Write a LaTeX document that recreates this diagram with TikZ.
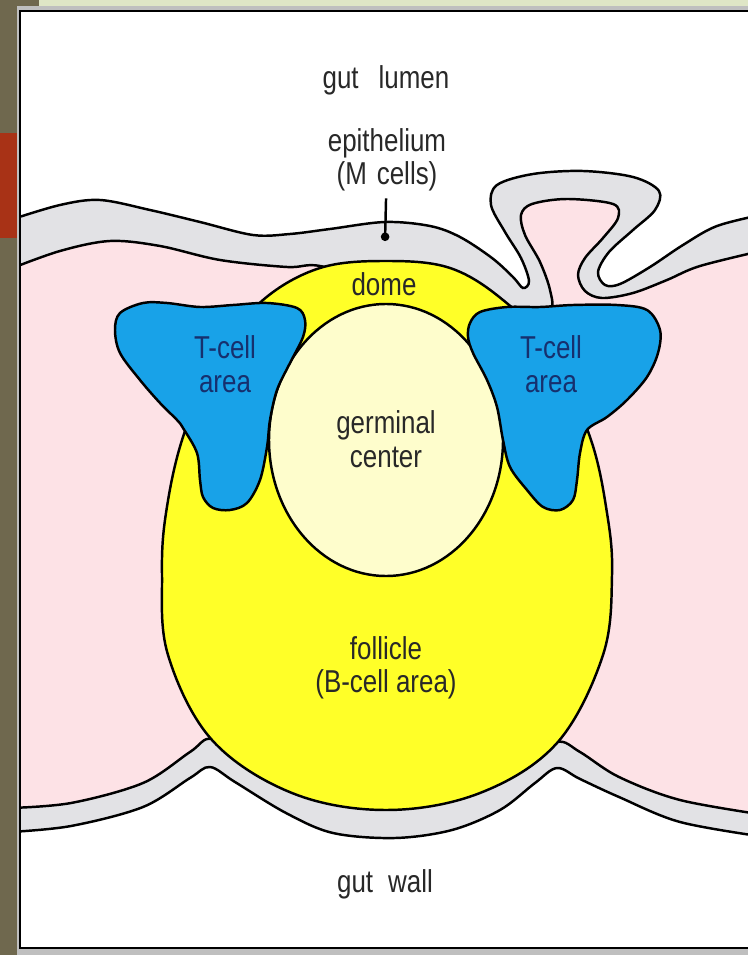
\documentclass[tikz,border=0pt]{standalone}
\usepackage{fontspec}
\newfontfamily\labelfont[FakeStretch=0.82]{Liberation Sans}
\usetikzlibrary{arrows.meta}

\definecolor{frameolive}{RGB}{111,104,78}
\definecolor{framered}{RGB}{168,50,22}
\definecolor{framegreen}{RGB}{223,230,198}
\definecolor{epigrey}{RGB}{226,226,229}
\definecolor{laminapink}{RGB}{253,226,230}
\definecolor{folyellow}{RGB}{255,255,40}
\definecolor{gcyellow}{RGB}{254,253,204}
\definecolor{tblue}{RGB}{24,162,232}
\definecolor{tbluetext}{RGB}{22,48,110}
\definecolor{txtgrey}{RGB}{40,40,40}

\tikzset{
  outline/.style={draw=black, line width=0.7pt},
  lbl/.style={font=\labelfont\fontsize{9}{9.5}\selectfont, text=txtgrey, align=center, inner sep=0pt},
  tlbl/.style={lbl, text=tbluetext},
  wavy/.style={smooth, tension=0.55},
}

\begin{document}
\begin{tikzpicture}[x=0.1mm, y=-0.1mm]
  \useasboundingbox (0,0) rectangle (748,955);

  % slide frame
  \fill[frameolive] (0,0) rectangle (748,955);
  \fill[framegreen] (39,0) rectangle (748,6);
  \fill[framered] (0,133) rectangle (17,238);
  \fill[black!25] (17,6) rectangle (760,955);
  \fill[white] (20,10) rectangle (760,949);

  \begin{scope}
    \clip (21,12) rectangle (760,947);
    % epithelium (top) and gut wall (bottom) bands
    \fill[epigrey] plot[wavy] coordinates {(10,220) (60,205) (100,200) (150,210) (200,222) (253,235) (290,234) (330,229) (385,222) (430,226) (460,237) (492,258) (513,277) (523,288) (529,281) (521,258) (505,232) (491,205) (497,185) (533,174) (583,171) (633,177) (659,191) (655,210) (633,230) (609,252) (598,272) (605,285) (620,284) (650,267) (683,245) (717,226) (765,214)} -- (765,960) -- (10,960) -- cycle;
    \fill[laminapink] plot[wavy] coordinates {(10,269) (60,251) (110,241) (160,246) (220,260) (287,267) (320,266) (386,285) (460,300) (520,318) (550,310) (550,290) (540,262) (525,235) (521,215) (532,204) (567,199) (613,204) (618,218) (603,238) (585,258) (578,275) (585,291) (602,298) (633,293) (667,280) (700,266) (765,250)} -- (765,960) -- (10,960) -- cycle;
    \fill[epigrey] plot[wavy] coordinates {(10,808) (71,803) (143,783) (190,752) (212,739) (250,765) (300,785) (386,792) (470,785) (520,765) (557,742) (580,752) (619,777) (680,800) (765,815)} -- (765,960) -- (10,960) -- cycle;
    \fill[white] plot[wavy] coordinates {(10,832) (71,826) (143,807) (190,778) (210,767) (235,782) (286,813) (333,833) (395,838) (452,830) (500,810) (535,783) (557,768) (580,779) (619,797) (680,822) (765,837)} -- (765,960) -- (10,960) -- cycle;

    \draw[outline] plot[wavy] coordinates {(10,220) (60,205) (100,200) (150,210) (200,222) (253,235) (290,234) (330,229) (385,222) (430,226) (460,237) (492,258) (513,277) (523,288) (529,281) (521,258) (505,232) (491,205) (497,185) (533,174) (583,171) (633,177) (659,191) (655,210) (633,230) (609,252) (598,272) (605,285) (620,284) (650,267) (683,245) (717,226) (765,214)};
    \draw[outline] plot[wavy] coordinates {(10,269) (60,251) (110,241) (160,246) (220,260) (287,267) (320,266) (386,285) (460,300) (520,318) (550,310) (550,290) (540,262) (525,235) (521,215) (532,204) (567,199) (613,204) (618,218) (603,238) (585,258) (578,275) (585,291) (602,298) (633,293) (667,280) (700,266) (765,250)};
    \draw[outline] plot[wavy] coordinates {(10,808) (71,803) (143,783) (190,752) (212,739) (250,765) (300,785) (386,792) (470,785) (520,765) (557,742) (580,752) (619,777) (680,800) (765,815)};
    \draw[outline] plot[wavy] coordinates {(10,832) (71,826) (143,807) (190,778) (210,767) (235,782) (286,813) (333,833) (395,838) (452,830) (500,810) (535,783) (557,768) (580,779) (619,797) (680,822) (765,837)};
  \end{scope}
  \draw[line width=0.8pt] (20,11) rectangle (770,948);

  % follicle and germinal center
  \draw[outline, fill=folyellow] plot[smooth cycle, tension=0.6] coordinates {(386,261) (450,268) (503,300) (550,350) (590,437) (607,513) (612,575) (603,655) (557,743) (480,793) (386,810) (292,793) (212,740) (168,655) (162,575) (166,513) (183,437) (218,355) (263,300) (320,268)};
  \draw[outline, fill=gcyellow] (386,440) ellipse [x radius=11.7mm, y radius=13.6mm];

  % T-cell areas
  \draw[outline, fill=tblue] plot[smooth cycle, tension=0.55] coordinates {(115,330) (120,313) (143,303) (167,303) (200,307) (233,305) (267,303) (297,308) (305,320) (303,337) (290,363) (277,390) (270,420) (267,447) (260,480) (247,503) (230,510) (213,508) (203,497) (200,480) (197,453) (183,428) (177,420) (160,403) (140,380) (120,353)};
  \draw[outline, fill=tblue] plot[smooth cycle, tension=0.55] coordinates {(468,337) (470,323) (480,312) (507,307) (540,307) (573,305) (617,305) (647,310) (660,330) (658,353) (647,377) (627,400) (607,417) (587,430) (580,453) (577,480) (573,500) (560,510) (543,507) (527,490) (510,467) (503,440) (497,407) (487,380) (473,353)};

  % labels
  \node[lbl] (lumen) at (386,80) {gut\hspace{2mm}lumen};
  \node[lbl, outer sep=2pt] (epi) at (387,160) {epithelium\\(M\hspace{1mm}cells)};
  \coordinate (mcell) at (385,241);
  \draw[line width=0.7pt, -{Circle[length=2.4pt]}] (epi) -- (mcell);
  \node[lbl] (dome) at (384,284) {dome};
  \node[tlbl] (tleft) at (225,364) {T-cell\\area};
  \node[tlbl] (tright) at (551,364) {T-cell\\area};
  \node[lbl] (gc) at (386,439) {germinal\\center};
  \node[lbl] (fol) at (386,668) {follicle\\(B-cell area)};
  \node[lbl] (wall) at (385,884) {gut\hspace{1.5mm}wall};
\end{tikzpicture}
\end{document}
